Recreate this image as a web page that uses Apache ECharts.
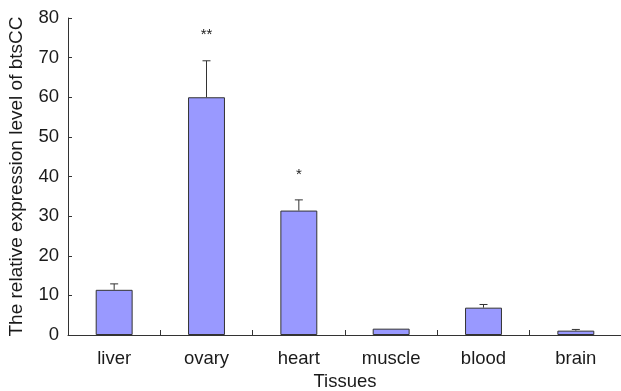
<!DOCTYPE html>
<html>
<head>
<meta charset="utf-8">
<script src="https://cdn.jsdelivr.net/npm/echarts@6/dist/echarts.min.js"></script>
<style>
html,body{margin:0;padding:0;background:#fff;}
#chart{width:621px;height:391px;}
</style>
</head>
<body>
<div id="chart"></div>
<script>
var categories = ["liver", "ovary", "heart", "muscle", "blood", "brain"];
var values = [11.4, 60.0, 31.4, 1.6, 6.9, 1.1];
var errorTops = [12.9, 69.2, 34.1, 1.6, 7.7, 1.4];
var significance = ["", "**", "*", "", "", ""];
var yTicks = [0, 10, 20, 30, 40, 50, 60, 70, 80];

var font = "Liberation Sans";
var axisColor = "#333";
var textColor = "#1a1a1a";

var errData = categories.map(function (c, i) {
  return [i, errorTops[i], values[i], significance[i]];
});

var chart = echarts.init(document.getElementById('chart'));
chart.setOption({
  animation: false,
  backgroundColor: '#fff',
  grid: { left: 68, right: -1, top: 18, bottom: 56, containLabel: false, outerBoundsMode: 'none' },
  xAxis: {
    type: 'category',
    data: categories,
    name: 'Tissues',
    nameLocation: 'middle',
    nameGap: 37,
    nameTextStyle: { fontFamily: font, fontSize: 18.5, color: textColor },
    axisLine: { lineStyle: { color: axisColor, width: 1 } },
    axisTick: { show: true, inside: true, length: 5, alignWithLabel: false, lineStyle: { color: axisColor } },
    axisLabel: { fontFamily: font, fontSize: 18.5, color: textColor, margin: 14 },
    splitLine: { show: false }
  },
  yAxis: {
    type: 'value',
    min: yTicks[0],
    max: yTicks[yTicks.length - 1],
    interval: 10,
    name: 'The relative expression level of btsCC',
    nameLocation: 'middle',
    nameGap: 42,
    nameTextStyle: { fontFamily: font, fontSize: 19, color: textColor },
    axisLine: { show: true, lineStyle: { color: axisColor, width: 1 } },
    axisTick: { show: true, inside: true, length: 4, lineStyle: { color: axisColor } },
    axisLabel: { fontFamily: font, fontSize: 18.5, color: textColor, margin: 9 },
    splitLine: { show: false }
  },
  series: [
    {
      type: 'bar',
      data: values,
      barWidth: '40%',
      itemStyle: { color: '#9999ff', borderColor: '#333', borderWidth: 1 }
    },
    {
      type: 'custom',
      data: errData,
      encode: { x: 0, y: 1 },
      z: 5,
      renderItem: function (params, api) {
        var i = api.value(0);
        var top = api.coord([i, api.value(1)]);
        var base = api.coord([i, api.value(2)]);
        var sig = errData[params.dataIndex][3];
        var children = [];
        if (base[1] - top[1] > 0.5) {
          children.push({ type: 'line', shape: { x1: top[0], y1: top[1], x2: base[0], y2: base[1] }, style: { stroke: '#333', lineWidth: 1 } });
          children.push({ type: 'line', shape: { x1: top[0] - 4, y1: top[1], x2: top[0] + 4, y2: top[1] }, style: { stroke: '#333', lineWidth: 1 } });
        }
        if (sig) {
          children.push({ type: 'text', style: { text: sig, x: top[0], y: top[1] - 18, align: 'center', verticalAlign: 'bottom', fontFamily: font, fontSize: 15, fill: textColor } });
        }
        return { type: 'group', children: children };
      }
    }
  ]
});
</script>
</body>
</html>
